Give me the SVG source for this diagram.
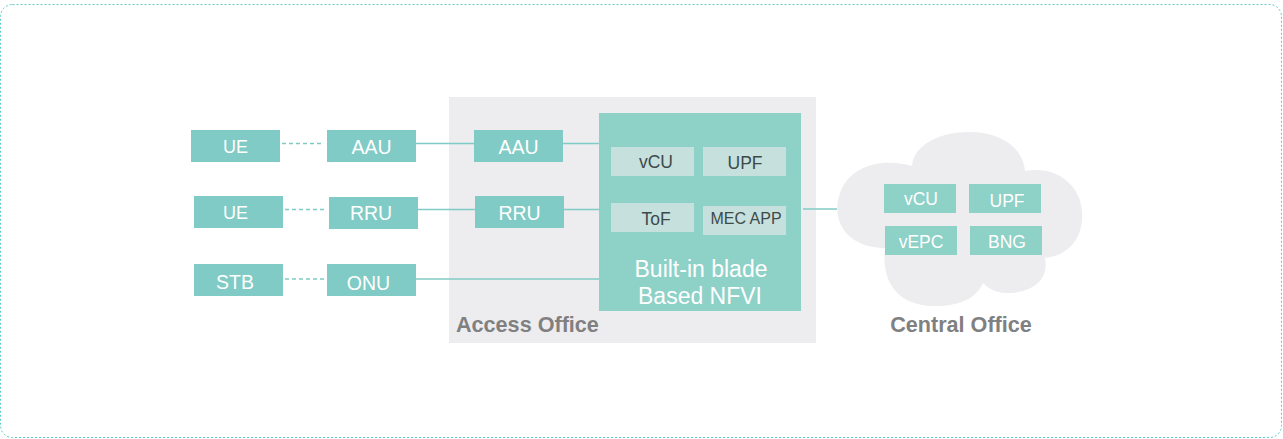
<svg xmlns="http://www.w3.org/2000/svg" width="1283" height="439" viewBox="0 0 1283 439">
<style>
.frame{fill:#fff;stroke:#5ccbc3;stroke-width:1;stroke-dasharray:2 2}
.dev{fill:#80cbc5}
.blade{fill:#8dd1c7}
.inner{fill:#c6e0dd}
.cbox{fill:#8dd1c7}
.wt{font-family:"Liberation Sans",Arial,sans-serif;fill:#fff;text-anchor:middle}
.dt{font-family:"Liberation Sans",Arial,sans-serif;fill:#3d4a49;text-anchor:middle}
.lbl{font-family:"Liberation Sans",Arial,sans-serif;font-weight:bold;fill:#808080;font-size:21.6px}
.ln{stroke:#80cbc5;stroke-width:1.3;fill:none}
.dash{stroke:#80cbc5;stroke-width:1.3;fill:none;stroke-dasharray:4 3}
</style>
<rect class="frame" x="0.5" y="4.5" width="1281" height="433" rx="12"/>
<g id="access-office">
<rect x="449" y="97" width="367" height="246" fill="#ededef"/>
<text class="lbl" x="456" y="332">Access Office</text>
</g>
<g id="central-office">
<path fill="#ededef" d="M885,248 C848,248 830,222 840,193 C849,167 880,157 912,166 C914,142 945,131 972,132 C1002,133 1023,148 1025,171 C1056,165 1081,185 1082,212 C1084,241 1065,256 1045,258 C1050,281 1030,294 1005,293 C992,292 986,286 983,283 C975,301 955,307 930,306 C899,304 881,284 885,248 Z"/>
<text class="lbl" x="961" y="332" text-anchor="middle">Central Office</text>
</g>
<g id="connectors">
<line class="dash" x1="282" y1="143.5" x2="323" y2="143.5"/>
<line class="dash" x1="285" y1="209.5" x2="326" y2="209.5"/>
<line class="dash" x1="285" y1="279" x2="324" y2="279"/>
<line class="ln" x1="416" y1="143.5" x2="474" y2="143.5"/>
<line class="ln" x1="563" y1="143.5" x2="600" y2="143.5"/>
<line class="ln" x1="418" y1="209.5" x2="475" y2="209.5"/>
<line class="ln" x1="564" y1="209.5" x2="603" y2="209.5"/>
<line class="ln" x1="416" y1="279" x2="600" y2="279"/>
<line class="ln" x1="803" y1="209" x2="837" y2="209"/>
</g>
<g id="ue1"><rect class="dev" x="191" y="130" width="89" height="32"/><text class="wt" x="235.5" y="152.5" font-size="18">UE</text></g>
<g id="aau1"><rect class="dev" x="327" y="130" width="89" height="32"/><text class="wt" x="371.5" y="153.5" font-size="19.5">AAU</text></g>
<g id="aau2"><rect class="dev" x="474" y="130" width="89" height="32"/><text class="wt" x="518.5" y="153.5" font-size="19.5">AAU</text></g>
<g id="ue2"><rect class="dev" x="194" y="196" width="89" height="32"/><text class="wt" x="235.5" y="219" font-size="18">UE</text></g>
<g id="rru1"><rect class="dev" x="329" y="197" width="89" height="32"/><text class="wt" x="371" y="220" font-size="19.5">RRU</text></g>
<g id="rru2"><rect class="dev" x="475" y="196" width="89" height="32"/><text class="wt" x="519.5" y="219.5" font-size="19.5">RRU</text></g>
<g id="stb"><rect class="dev" x="194" y="264" width="89" height="32"/><text class="wt" x="235" y="289" font-size="19.5">STB</text></g>
<g id="onu"><rect class="dev" x="327" y="264" width="89" height="32"/><text class="wt" x="368.5" y="290" font-size="19.5">ONU</text></g>
<g id="blade">
<rect class="blade" x="599" y="113" width="202" height="198"/>
<rect class="inner" x="611" y="147" width="83" height="29"/><text class="dt" x="656" y="168" font-size="17.5">vCU</text>
<rect class="inner" x="703" y="147" width="83" height="29"/><text class="dt" x="745" y="169" font-size="17.5">UPF</text>
<rect class="inner" x="611" y="203" width="83" height="29"/><text class="dt" x="656" y="225" font-size="17.5">ToF</text>
<rect class="inner" x="703" y="206" width="83" height="29"/><text class="dt" x="746" y="224" font-size="16">MEC APP</text>
<text class="wt" x="701" y="277" font-size="23">Built-in blade</text>
<text class="wt" x="700" y="304" font-size="23">Based NFVI</text>
</g>
<g id="cloud-vcu"><rect class="cbox" x="884" y="184" width="72" height="29"/><text class="wt" x="921" y="205" font-size="17.5">vCU</text></g>
<g id="cloud-upf"><rect class="cbox" x="969" y="184" width="72" height="29"/><text class="wt" x="1007" y="207" font-size="17.5">UPF</text></g>
<g id="cloud-vepc"><rect class="cbox" x="885" y="226" width="72" height="29"/><text class="wt" x="921" y="248" font-size="17.5">vEPC</text></g>
<g id="cloud-bng"><rect class="cbox" x="970" y="226" width="72" height="29"/><text class="wt" x="1007" y="248" font-size="17.5">BNG</text></g>
</svg>
